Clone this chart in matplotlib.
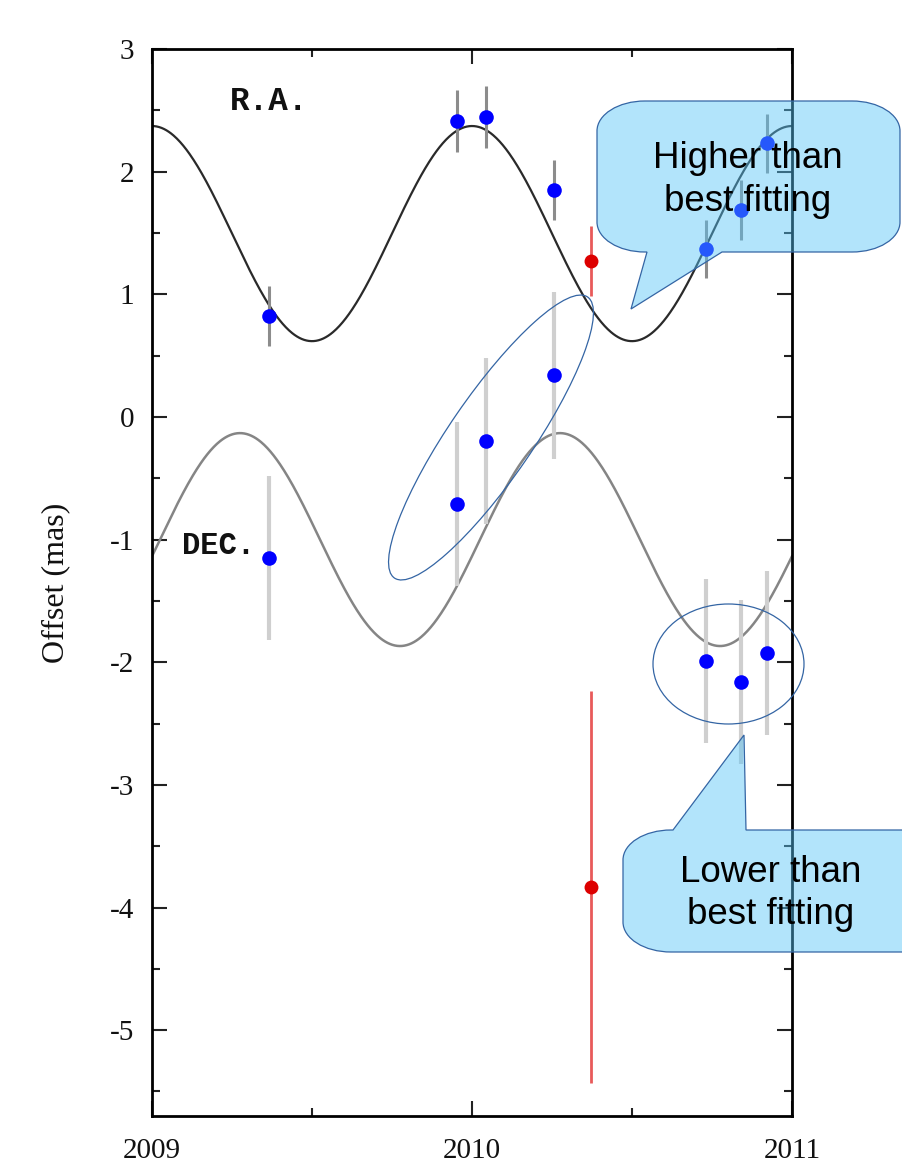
import numpy as np
import matplotlib
matplotlib.use("Agg")
import matplotlib.pyplot as plt
from matplotlib.patches import Ellipse, PathPatch
from matplotlib.path import Path
from matplotlib.transforms import Affine2D

# ---------------- data ----------------
ra_epochs = [2009.366, 2009.952, 2010.045, 2010.257, 2010.730, 2010.840, 2010.921]
ra_offsets = [0.82, 2.413, 2.445, 1.85, 1.369, 1.687, 2.233]
ra_errors = [0.245, 0.25, 0.25, 0.245, 0.24, 0.245, 0.24]

dec_epochs = [2009.366, 2009.952, 2010.045, 2010.257, 2010.730, 2010.840, 2010.921]
dec_offsets = [-1.149, -0.708, -0.197, 0.341, -1.992, -2.160, -1.924]
dec_errors = [0.67, 0.67, 0.68, 0.68, 0.67, 0.67, 0.67]

outlier_epoch = [2010.373]
outlier_ra = [1.273]
outlier_ra_err = [0.285]
outlier_dec = [-3.833]
outlier_dec_err = [1.60]

# best-fitting parallax model parameters (mean, amplitude, epoch of maximum)
ra_fit_mean, ra_fit_amp, ra_fit_tmax = 1.495, 0.877, 2009.0
dec_fit_mean, dec_fit_amp, dec_fit_tmax = -1.0, 0.868, 2009.275

x_ticks = [2009, 2010, 2011]
y_ticks = [3, 2, 1, 0, -1, -2, -3, -4, -5]

# ---------------- figure ----------------
W, H = 903, 1167
fig = plt.figure(figsize=(W / 100, H / 100), dpi=100)
ax = fig.add_axes([152 / W, 1 - 1116 / H, 640 / W, 1067 / H])

t = np.linspace(2009.0, 2011.0, 800)
ra_model = ra_fit_mean + ra_fit_amp * np.cos(2 * np.pi * (t - ra_fit_tmax))
dec_model = dec_fit_mean + dec_fit_amp * np.cos(2 * np.pi * (t - dec_fit_tmax))
ax.plot(t, ra_model, color="#2a2a2a", lw=1.6, zorder=2)
ax.plot(t, dec_model, color="#858585", lw=1.8, zorder=2)

# error bars
ax.errorbar(ra_epochs, ra_offsets, yerr=ra_errors, fmt="none",
            ecolor="#8c8c8c", elinewidth=2.2, capsize=0, zorder=3)
ax.errorbar(dec_epochs, dec_offsets, yerr=dec_errors, fmt="none",
            ecolor="#cfcfcf", elinewidth=3.0, capsize=0, zorder=3)
ax.errorbar(outlier_epoch, outlier_ra, yerr=outlier_ra_err, fmt="none",
            ecolor="#e85a5a", elinewidth=2.0, capsize=0, zorder=3)
ax.errorbar(outlier_epoch, outlier_dec, yerr=outlier_dec_err, fmt="none",
            ecolor="#e85a5a", elinewidth=2.0, capsize=0, zorder=3)

# points
ax.plot(ra_epochs, ra_offsets, "o", color="#0000ff", ms=10.5, mew=0, zorder=4)
ax.plot(dec_epochs, dec_offsets, "o", color="#0000ff", ms=10.5, mew=0, zorder=4)
ax.plot(outlier_epoch + outlier_epoch, outlier_ra + outlier_dec, "o",
        color="#dd0000", ms=10, mew=0, zorder=4)

ax.set_xlim(2009, 2011)
ax.set_ylim(-5.70, 3.0)
ax.set_xticks(x_ticks)
ax.set_xticks([2009.5, 2010.5], minor=True)
ax.set_yticks(y_ticks)
ax.set_yticks(np.arange(-5.5, 3.0, 1.0), minor=True)
ax.set_xticklabels([str(v) for v in x_ticks])
ax.set_yticklabels([str(v) for v in y_ticks])

for s in ax.spines.values():
    s.set_linewidth(2.0)
ax.tick_params(which="both", direction="in", top=True, right=True,
               width=1.5, colors="#222222")
ax.tick_params(which="major", length=11)
ax.tick_params(which="minor", length=6)
ax.tick_params(axis="y", which="major", pad=13, labelsize=21, labelcolor="#111111")
ax.tick_params(axis="x", which="major", pad=16, labelsize=21, labelcolor="#111111")
for lab in ax.get_xticklabels() + ax.get_yticklabels():
    lab.set_fontfamily("Liberation Serif")

ax.set_ylabel("Offset (mas)", fontfamily="Liberation Serif", fontsize=23,
              color="#111111")
ax.yaxis.set_label_coords(-0.128, 0.5)

ax.text(2009.243, 2.57, "R.A.", fontfamily="Liberation Mono", fontweight="bold",
        fontsize=23.5, color="#111111", va="center", ha="left")
ax.text(2009.095, -1.05, "DEC.", fontfamily="Liberation Mono", fontweight="bold",
        fontsize=22, color="#111111", va="center", ha="left")

# ---------------- overlay annotations (image-pixel coordinates) ----------------
pix = Affine2D().scale(1, -1).translate(0, H)
edge = "#3465a4"
fill = (86 / 255, 197 / 255, 248 / 255, 0.45)

fig.add_artist(Ellipse((491, 437.5), 341, 83, angle=-55.5, transform=pix,
                       fill=False, edgecolor=edge, lw=0.9, zorder=10))
fig.add_artist(Ellipse((728.5, 664), 151, 120, angle=0, transform=pix,
                       fill=False, edgecolor=edge, lw=0.9, zorder=10))

K = 0.5523


def callout(left, top, right, bottom, rx, ry, side, x1, x2, tip):
    verts, codes = [], []

    def mv(p):
        verts.append(p); codes.append(Path.MOVETO)

    def ln(p):
        verts.append(p); codes.append(Path.LINETO)

    def cv(c1, c2, p):
        verts.extend([c1, c2, p]); codes.extend([Path.CURVE4] * 3)

    mv((left + rx, top))
    if side == "top":
        ln((x1, top)); ln(tip); ln((x2, top))
    ln((right - rx, top))
    cv((right - rx + K * rx, top), (right, top + ry - K * ry), (right, top + ry))
    ln((right, bottom - ry))
    cv((right, bottom - ry + K * ry), (right - rx + K * rx, bottom), (right - rx, bottom))
    if side == "bottom":
        ln((x2, bottom)); ln(tip); ln((x1, bottom))
    ln((left + rx, bottom))
    cv((left + rx - K * rx, bottom), (left, bottom - ry + K * ry), (left, bottom - ry))
    ln((left, top + ry))
    cv((left, top + ry - K * ry), (left + rx - K * rx, top), (left + rx, top))
    verts.append((left + rx, top)); codes.append(Path.CLOSEPOLY)
    return Path(verts, codes)


p1 = callout(597, 101, 900, 252, 48, 30, "bottom", 647, 722, (631, 309))
p2 = callout(623, 830, 975, 952, 48, 30, "top", 673, 746, (744, 735))
for p in (p1, p2):
    fig.add_artist(PathPatch(p, transform=pix, facecolor=fill, edgecolor=edge,
                             lw=0.9, zorder=11))

callout_lines = [("Higher than", 748, 168), ("best fitting", 748, 211),
                 ("Lower than", 771, 882), ("best fitting", 771, 924)]
for txt, cx, base in callout_lines:
    fig.text(cx, base, txt, transform=pix, ha="center", va="baseline",
             fontfamily="Liberation Sans", fontsize=26.5, color="black",
             zorder=12)

fig.savefig("out.png", dpi=100)
